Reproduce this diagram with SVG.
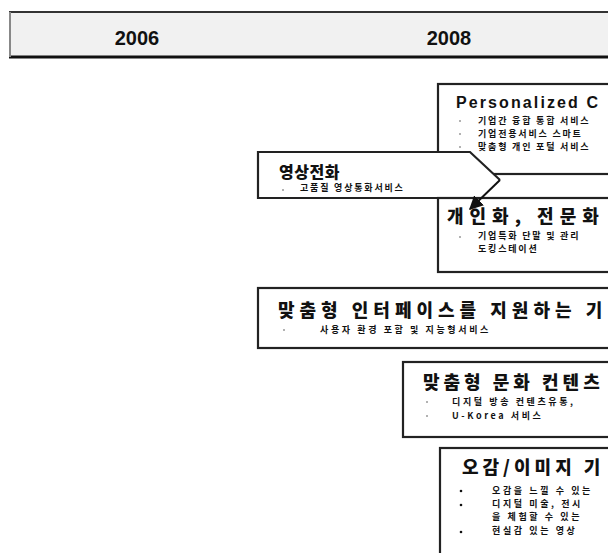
<svg xmlns="http://www.w3.org/2000/svg" width="608" height="553" viewBox="0 0 608 553">
<defs>
<style>
.box{fill:#fff;stroke:#222;stroke-width:2.2}
.hdr{font-family:"Liberation Sans",Arial,sans-serif;font-weight:bold;font-size:20px;fill:#111}
.ttl{font-family:"Noto Sans CJK KR","Noto Sans",sans-serif;font-weight:900;font-size:18px;fill:#111}
.en{font-family:"Liberation Sans",Arial,sans-serif;font-weight:bold;font-size:16px;fill:#111;letter-spacing:2.1px}
.sub{font-family:"Noto Sans CJK KR","Noto Sans",sans-serif;font-weight:bold;font-size:9px;fill:#111;letter-spacing:1.8px}
.dot{fill:#999}
.bdot{fill:#111}
</style>
<marker id="ah" viewBox="0 0 10 10" refX="9" refY="5" markerWidth="7" markerHeight="7" orient="auto">
<path d="M0,0 L10,5 L0,10 z" fill="#111"/>
</marker>
</defs>
<rect width="608" height="553" fill="#fff"/>

<g id="header">
<rect x="9" y="12" width="606" height="45" fill="#f1f1f1"/>
<line x1="9" y1="12" x2="608" y2="12" stroke="#333" stroke-width="2"/>
<line x1="9" y1="57" x2="608" y2="57" stroke="#111" stroke-width="3"/>
<line x1="10" y1="12" x2="10" y2="57" stroke="#888" stroke-width="2"/>
<text class="hdr" x="137" y="45" text-anchor="middle">2006</text>
<text class="hdr" x="449" y="45" text-anchor="middle">2008</text>
</g>

<g id="personalized">
<rect class="box" x="438" y="84" width="190" height="90"/>
<text class="en" x="456" y="108">Personalized C</text>
<circle class="dot" cx="460" cy="121" r="1"/>
<circle class="dot" cx="460" cy="134" r="1"/>
<circle class="dot" cx="460" cy="147" r="1"/>
<text class="sub" x="478" y="124">기업간 융합 통합 서비스</text>
<text class="sub" x="478" y="137">기업전용서비스 스마트</text>
<text class="sub" x="478" y="150">맞춤형 개인 포털 서비스</text>
</g>

<g id="videocall">
<path d="M472,198 H258 V152 H470 L500,180" fill="#fff" stroke="#222" stroke-width="2.2" stroke-linejoin="miter"/>
<text class="ttl" x="279" y="178" style="font-size:16px;letter-spacing:0.5px">영상전화</text>
<circle class="dot" cx="283" cy="190" r="1"/>
<text class="sub" x="300" y="191">고품질 영상통화서비스</text>
</g>

<g id="individual">
<rect class="box" x="438" y="198" width="190" height="74"/>
<text class="ttl" x="447" y="223" style="letter-spacing:6px">개인화, 전문화</text>
<circle class="dot" cx="460" cy="237" r="1"/>
<text class="sub" x="478" y="239">기업특화 단말 및 관리</text>
<text class="sub" x="478" y="252">도킹스테이션</text>
</g>

<g id="interface">
<rect class="box" x="258" y="288" width="370" height="60"/>
<text class="ttl" x="278" y="317" style="letter-spacing:5px">맞춤형 인터페이스를 지원하는 기</text>
<circle class="dot" cx="284" cy="330" r="1"/>
<text class="sub" x="320" y="333" style="letter-spacing:2.6px">사용자 환경 포함 및 지능형서비스</text>
</g>

<g id="culture">
<rect class="box" x="403" y="362" width="225" height="75"/>
<text class="ttl" x="423" y="389" style="letter-spacing:4px">맞춤형 문화 컨텐츠</text>
<circle class="dot" cx="427" cy="402" r="1"/>
<circle class="dot" cx="427" cy="416" r="1"/>
<text class="sub" x="452" y="405" style="letter-spacing:2.6px">디지털 방송 컨텐츠유통,</text>
<text class="sub" x="452" y="419" style="letter-spacing:2.6px">U-Korea 서비스</text>
</g>

<g id="senses">
<rect class="box" x="440" y="448" width="190" height="120"/>
<text class="ttl" x="462" y="474" style="letter-spacing:4px">오감/이미지 기</text>
<circle class="bdot" cx="461" cy="491" r="1.3"/>
<circle class="bdot" cx="461" cy="505" r="1.3"/>
<circle class="bdot" cx="461" cy="532" r="1.3"/>
<text class="sub" x="492" y="494" style="letter-spacing:2.6px">오감을 느낄 수 있는</text>
<text class="sub" x="492" y="507" style="letter-spacing:2.6px">디지털 미술, 전시</text>
<text class="sub" x="492" y="520" style="letter-spacing:2.6px">을 체험할 수 있는</text>
<text class="sub" x="492" y="534" style="letter-spacing:2.6px">현실감 있는 영상</text>
</g>

<g id="connectors">
<line x1="500" y1="180" x2="470" y2="209" stroke="#111" stroke-width="2" marker-end="url(#ah)"/>
</g>
</svg>
